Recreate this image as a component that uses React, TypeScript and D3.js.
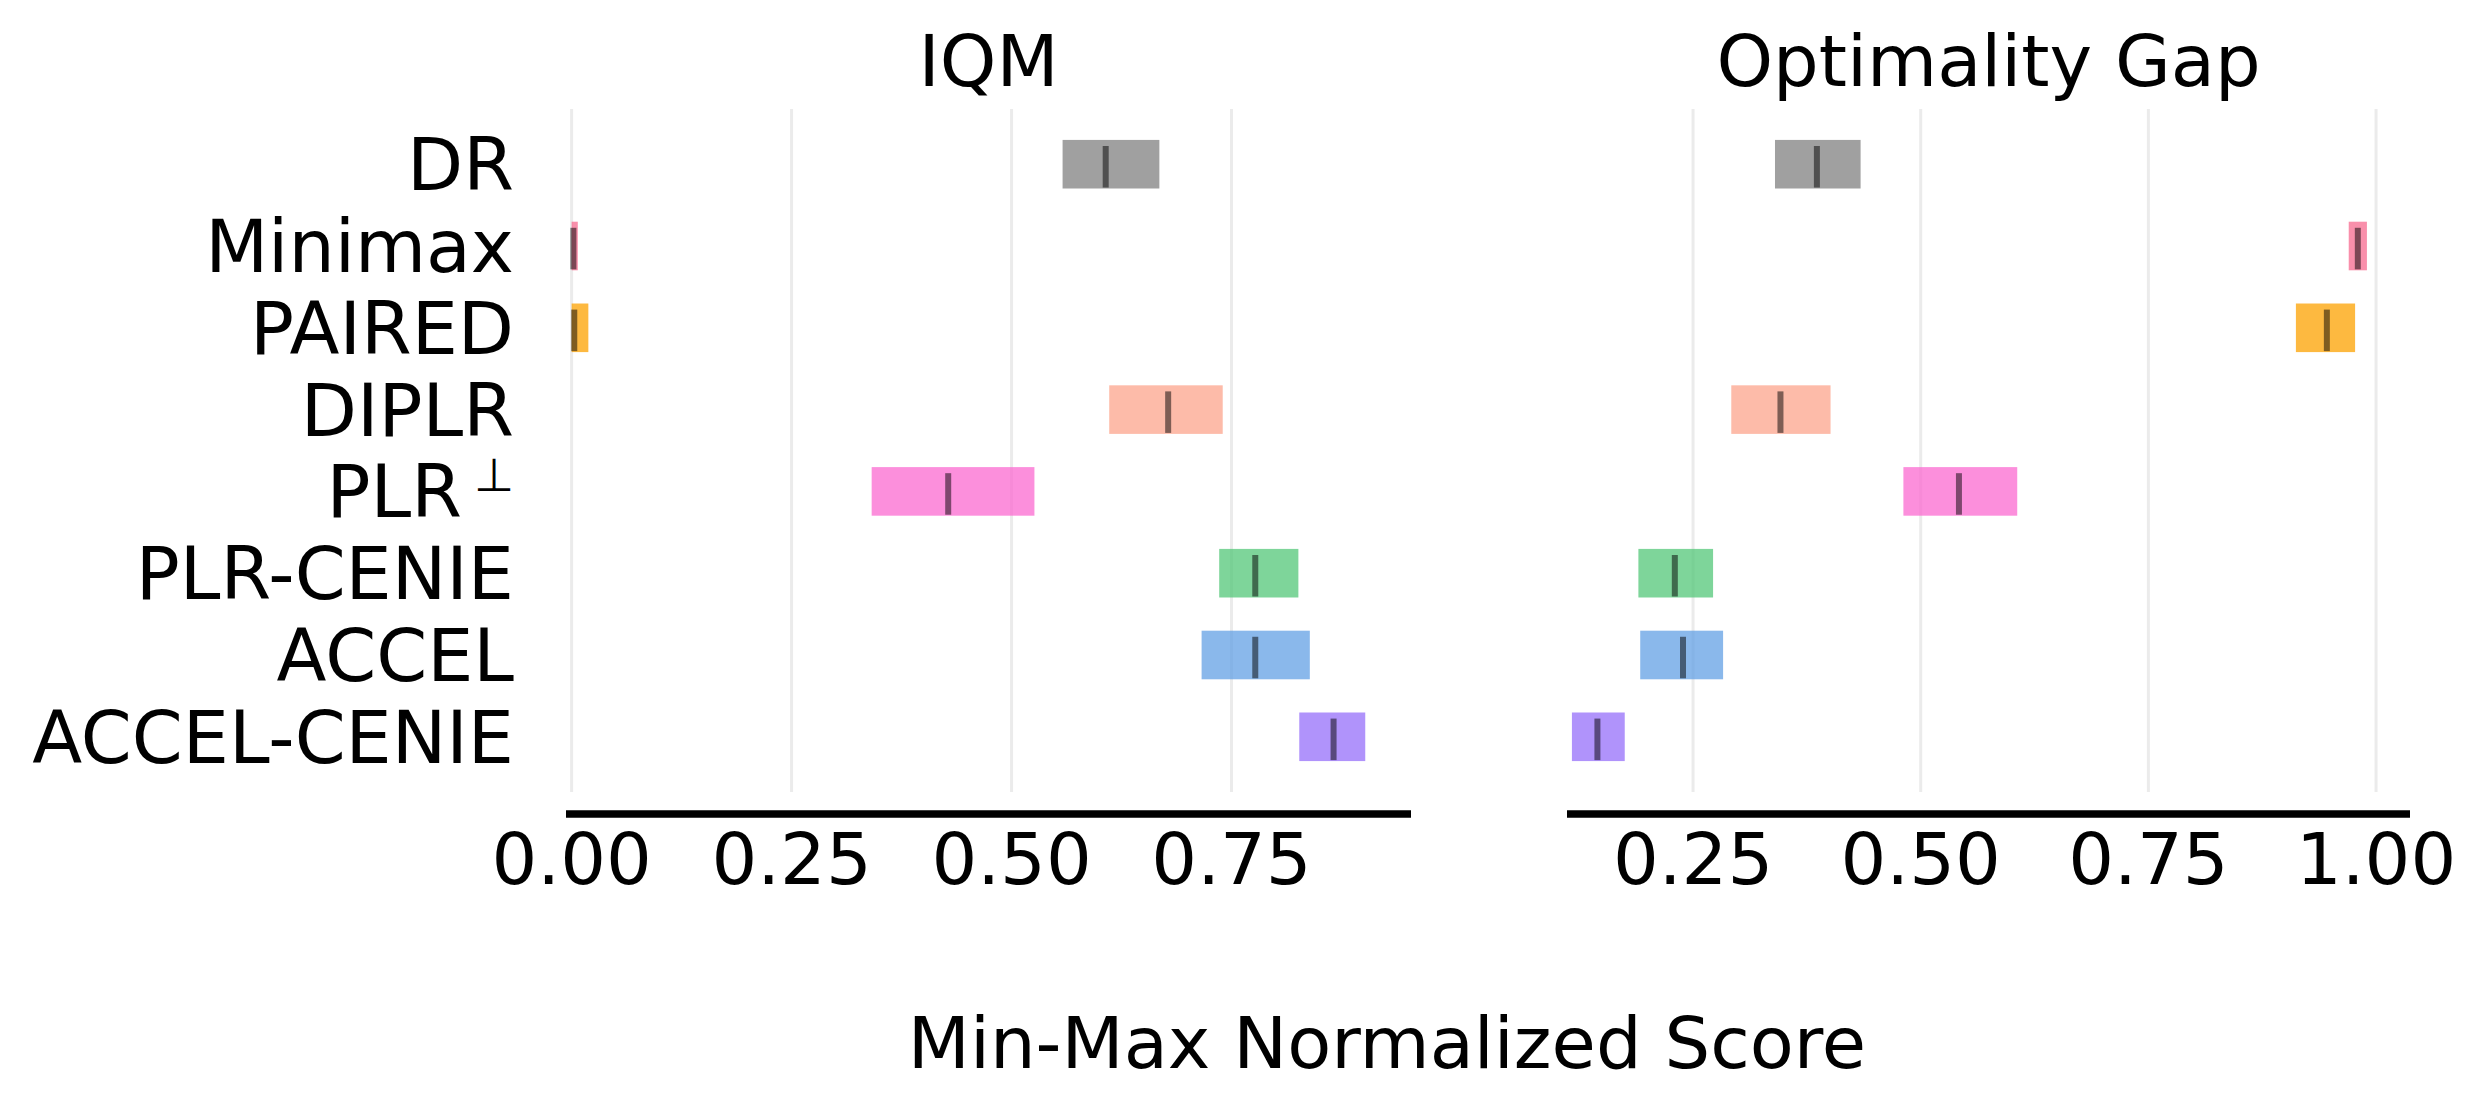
import * as d3 from "d3";
import React from "react";

const WIDTH = 2485;
const HEIGHT = 1113;
const FONT = "DejaVu Sans, sans-serif";

// categories, top to bottom
const algorithms = [
    "DR",
    "Minimax",
    "PAIRED",
    "DIPLR",
    "PLR⊥",
    "PLR-CENIE",
    "ACCEL",
    "ACCEL-CENIE",
];

const colors = [
    "#808080",
    "#f76a8f",
    "#fca200",
    "#fca48c",
    "#fb6ad0",
    "#53c778",
    "#63a0e4",
    "#966ffa",
];

// IQM: low / median / high
const iqmLow = [0.558, 0.0, 0.0, 0.611, 0.341, 0.736, 0.716, 0.827];
const iqmMedian = [0.607, 0.002, 0.003, 0.678, 0.428, 0.777, 0.777, 0.866];
const iqmHigh = [0.668, 0.007, 0.019, 0.74, 0.526, 0.826, 0.839, 0.902];

// Optimality gap: low / median / high
const ogLow = [0.34, 0.97, 0.912, 0.292, 0.481, 0.19, 0.192, 0.117];
const ogMedian = [0.386, 0.98, 0.946, 0.346, 0.542, 0.23, 0.239, 0.145];
const ogHigh = [0.434, 0.99, 0.977, 0.401, 0.606, 0.272, 0.283, 0.175];

const iqmTicks = [0, 0.25, 0.5, 0.75];
const ogTicks = [0.25, 0.5, 0.75, 1.0];

const panels = [
    {
        title: "IQM",
        low: iqmLow,
        median: iqmMedian,
        high: iqmHigh,
        ticks: iqmTicks,
        xlim: [-0.0064, 0.954],
        range: [566, 1411],
    },
    {
        title: "Optimality Gap",
        low: ogLow,
        median: ogMedian,
        high: ogHigh,
        ticks: ogTicks,
        xlim: [0.1116, 1.0373],
        range: [1567, 2410],
    },
];

const GRID_TOP = 109;
const GRID_BOTTOM = 792;
const SPINE_Y = 814;

const App: React.FC = () => {
    const yScale = d3
        .scaleBand<string>()
        .domain(algorithms)
        .range([GRID_TOP, GRID_BOTTOM])
        .paddingInner(0.406)
        .paddingOuter(0.378);
    const bh = yScale.bandwidth();

    return (
        <svg
            width={WIDTH}
            height={HEIGHT}
            style={{ position: "absolute", left: 0, top: 0, background: "#fff" }}
            fontFamily={FONT}
        >
            {panels.map((p) => {
                const x = d3.scaleLinear().domain(p.xlim).range(p.range);
                const mid = (p.range[0] + p.range[1]) / 2;
                return (
                    <g key={p.title}>
                        {p.ticks.map((t) => (
                            <line
                                key={"g" + t}
                                x1={x(t)}
                                x2={x(t)}
                                y1={GRID_TOP}
                                y2={GRID_BOTTOM}
                                stroke="#ebebeb"
                                strokeWidth={3}
                            />
                        ))}
                        {algorithms.map((a, i) => {
                            const y0 = yScale(a) || 0;
                            return (
                                <g key={a}>
                                    <rect
                                        x={x(p.low[i])}
                                        y={y0}
                                        width={x(p.high[i]) - x(p.low[i])}
                                        height={bh}
                                        fill={colors[i]}
                                        fillOpacity={0.75}
                                    />
                                    <line
                                        x1={x(p.median[i])}
                                        x2={x(p.median[i])}
                                        y1={y0 + bh * 0.125}
                                        y2={y0 + bh * 0.98}
                                        stroke="#000"
                                        strokeOpacity={0.5}
                                        strokeWidth={6}
                                    />
                                </g>
                            );
                        })}
                        <line
                            x1={p.range[0]}
                            x2={p.range[1]}
                            y1={SPINE_Y}
                            y2={SPINE_Y}
                            stroke="#000"
                            strokeWidth={7.3}
                        />
                        {p.ticks.map((t) => (
                            <text
                                key={"t" + t}
                                x={x(t)}
                                y={884}
                                fontSize={72}
                                textAnchor="middle"
                            >
                                {t.toFixed(2)}
                            </text>
                        ))}
                        <text x={mid} y={86} fontSize={72} textAnchor="middle">
                            {p.title}
                        </text>
                    </g>
                );
            })}
            {algorithms.map((a) => {
                const cy = (yScale(a) || 0) + bh / 2;
                if (a.endsWith("⊥")) {
                    return (
                        <text key={a} x={514} y={cy + 26} fontSize={73} textAnchor="end">
                            {a.slice(0, -1)}
                            <tspan dx={12} dy={-26} fontSize={46}>
                                ⊥
                            </tspan>
                        </text>
                    );
                }
                return (
                    <text key={a} x={514} y={cy + 26} fontSize={73} textAnchor="end">
                        {a}
                    </text>
                );
            })}
            <text x={1387} y={1068} fontSize={72} textAnchor="middle">
                Min-Max Normalized Score
            </text>
        </svg>
    );
};

export default App;
